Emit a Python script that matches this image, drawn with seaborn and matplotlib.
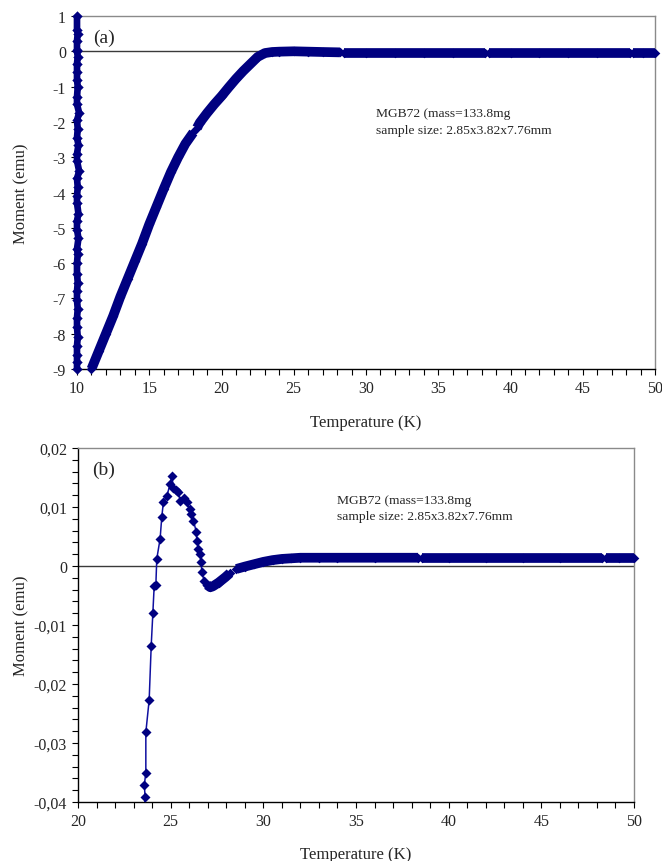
import numpy as np
import pandas as pd
import matplotlib
matplotlib.use("Agg")
import matplotlib.pyplot as plt
from matplotlib.ticker import MultipleLocator, FuncFormatter
import seaborn as sns

sns.set_theme(style="ticks")
plt.rcParams["font.family"] = ["Liberation Serif", "DejaVu Serif"]
plt.rcParams["axes.unicode_minus"] = False

NAVY = "#000080"

# ---------------- panel (a): full temperature sweep ----------------
# readings taken while held at 10 K
col_T = [10.0, 10.0, 10.05, 10.0, 10.0, 10.0, 10.05, 10.0, 10.0, 10.0,
         10.05, 10.0, 10.0, 10.15, 10.0, 10.05, 10.0, 10.1, 10.0, 10.0,
         10.15, 10.0, 10.05, 10.0, 10.0, 10.1, 10.0, 10.0, 10.1, 10.0,
         10.05, 10.0, 10.0, 10.05, 10.0, 10.0, 10.05, 10.0, 10.0, 10.05,
         10.0, 10.0, 10.0, 10.0]
col_M = [1.0, 0.6, 0.5, 0.3, 0.05, 0.0, -0.15, -0.35, -0.6, -0.8,
         -1.0, -1.3, -1.5, -1.75, -1.95, -2.2, -2.45, -2.65, -2.9, -3.1,
         -3.4, -3.6, -3.85, -4.1, -4.3, -4.6, -4.8, -5.05, -5.3, -5.6,
         -5.75, -6.0, -6.3, -6.55, -6.8, -7.05, -7.3, -7.55, -7.8, -8.1,
         -8.35, -8.6, -8.8, -9.0]

# warming curve, split into the recorded runs
a_T = [11.0, 11.5, 12.0, 12.5, 13.0, 13.5, 14.0, 14.5, 15.0, 15.5,
       16.0, 16.5, 17.0, 17.5, 18.05,
       18.3, 18.5, 19.0, 19.5, 20.0, 20.5, 21.0, 21.5, 22.0, 22.5,
       23.0, 23.5, 24.0, 25.0, 26.0, 27.0, 28.2,
       28.45, 30.0, 32.0, 34.0, 36.0, 38.25,
       38.5, 40.0, 42.0, 44.0, 46.0, 48.25,
       48.5, 49.2, 50.0]
a_M = [-9.0, -8.5, -8.0, -7.5, -6.95, -6.45, -5.95, -5.45, -4.9, -4.4,
       -3.9, -3.42, -3.0, -2.62, -2.3,
       -2.17, -2.02, -1.75, -1.5, -1.27, -1.02, -0.78, -0.56, -0.36, -0.16,
       -0.05, -0.02, -0.01, 0.0, -0.01, -0.02, -0.03,
       -0.04, -0.04, -0.04, -0.04, -0.04, -0.04,
       -0.04, -0.04, -0.04, -0.04, -0.04, -0.04,
       -0.04, -0.04, -0.04]
a_run = [1] * 15 + [2] * 17 + [3] * 6 + [4] * 6 + [5] * 3

# ---------------- panel (b): detail around the transition ----------------
# individual readings through the transition
b_T = [23.55, 23.62, 23.58, 23.66, 23.66, 23.84, 23.95, 24.04, 24.11, 24.2,
       24.25, 24.43, 24.52, 24.61, 24.79, 24.97, 25.06, 25.15, 25.3, 25.42,
       25.51, 25.7, 25.87, 26.02, 26.11, 26.23, 26.38, 26.41, 26.5, 26.59,
       26.63, 26.69, 26.81, 26.96]
b_M = [-0.043, -0.0392, -0.0371, -0.0350, -0.0282, -0.0227, -0.0135, -0.0079,
       -0.0034, -0.0033, 0.0012, 0.0046, 0.0083, 0.0109, 0.0118, 0.0139,
       0.0153, 0.0133, 0.0128, 0.0125, 0.0111, 0.0116, 0.0108, 0.0097,
       0.0088, 0.0077, 0.0058, 0.0043, 0.0029, 0.0020, 0.0007, -0.0011,
       -0.0025, -0.0032]

# densely sampled recovery and normal state
bt_T = [26.96, 27.14, 27.3, 27.59, 27.95, 28.2,
        28.55, 29.0, 29.5, 30.0, 30.5, 31.0, 31.5, 32.0, 33.0, 34.0, 36.0, 38.35,
        38.55, 40.0, 42.0, 44.0, 46.0, 48.3,
        48.5, 49.2, 50.0]
bt_M = [-0.0032, -0.0036, -0.0034, -0.0028, -0.0019, -0.0012,
        -0.0005, -0.0001, 0.0003, 0.0007, 0.0010, 0.0012, 0.0013, 0.0014,
        0.0014, 0.0014, 0.0014, 0.0014,
        0.0014, 0.0014, 0.0014, 0.0014, 0.0014, 0.0014,
        0.0014, 0.0014, 0.0014]
bt_run = [1] * 6 + [2] * 12 + [3] * 6 + [4] * 3

label_text = "MGB72 (mass=133.8mg\nsample size: 2.85x3.82x7.76mm"

BAND_LW = 7.0      # points, width of densely packed marker runs
DIAMOND_S = 24     # scatter size of a single diamond marker


def style_axes(ax):
    for side in ("left", "bottom"):
        ax.spines[side].set_color("black")
        ax.spines[side].set_linewidth(1.0)
    for side in ("top", "right"):
        ax.spines[side].set_visible(True)
        ax.spines[side].set_color("#8a8a8a")
        ax.spines[side].set_linewidth(1.0)
    ax.tick_params(which="both", direction="out", length=4, width=0.8,
                   color="black", labelsize=11.5, pad=4,
                   top=False, right=False)
    ax.set_facecolor("white")
    ax.axhline(0, color="#3a3a3a", lw=1.0, zorder=1)


fig = plt.figure(figsize=(6.62, 8.62), dpi=100)
ax_a = fig.add_axes([77 / 662, 1 - 370 / 862, 578 / 662, 353 / 862])
ax_b = fig.add_axes([78 / 662, 1 - 803 / 862, 556 / 662, 354 / 862])

# ---- (a)
df_col = pd.DataFrame({"T": col_T, "M": col_M})
df_a = pd.DataFrame({"T": a_T, "M": a_M, "run": a_run})

sns.lineplot(data=df_col, x="T", y="M", sort=False, estimator=None,
             color=NAVY, lw=4.8, solid_capstyle="butt", ax=ax_a, zorder=3,
             clip_on=False)
sns.scatterplot(data=df_col, x="T", y="M", marker="D", s=28,
                color=NAVY, edgecolor=NAVY, linewidth=0, ax=ax_a,
                zorder=4, clip_on=False)
sns.lineplot(data=df_a, x="T", y="M", units="run", estimator=None, sort=False,
             color=NAVY, lw=BAND_LW, solid_capstyle="butt", ax=ax_a, zorder=3)
sns.scatterplot(data=df_a, x="T", y="M", marker="D", s=DIAMOND_S,
                color=NAVY, edgecolor=NAVY, linewidth=0, ax=ax_a,
                zorder=4, clip_on=False)

ax_a.set_xlim(10, 50)
ax_a.set_ylim(-9, 1)
ax_a.xaxis.set_major_locator(MultipleLocator(5))
ax_a.xaxis.set_minor_locator(MultipleLocator(1))
ax_a.yaxis.set_major_locator(MultipleLocator(1))
ax_a.yaxis.set_major_formatter(FuncFormatter(lambda v, p: f"{v:.0f}"))
style_axes(ax_a)
ax_a.set_xlabel("Temperature (K)", fontsize=12, labelpad=13)
ax_a.set_ylabel("Moment (emu)", fontsize=12)
ax_a.yaxis.set_label_coords(-0.083, 0.5)
ax_a.text(0.028, 0.965, "(a)", transform=ax_a.transAxes, fontsize=14,
          ha="left", va="top")
ax_a.text(0.518, 0.742, label_text, transform=ax_a.transAxes, fontsize=9.7,
          ha="left", va="top", linespacing=1.5)

# ---- (b)
df_b = pd.DataFrame({"T": b_T, "M": b_M})
df_bt = pd.DataFrame({"T": bt_T, "M": bt_M, "run": bt_run})

sns.lineplot(data=df_b, x="T", y="M", sort=False, estimator=None,
             color="#1010a0", lw=1.1, ax=ax_b, zorder=3)
sns.scatterplot(data=df_b, x="T", y="M", marker="D", s=26,
                color=NAVY, edgecolor=NAVY, linewidth=0, ax=ax_b, zorder=4)
sns.lineplot(data=df_bt, x="T", y="M", units="run", estimator=None, sort=False,
             color=NAVY, lw=BAND_LW, solid_capstyle="butt", ax=ax_b, zorder=3)
sns.scatterplot(data=df_bt, x="T", y="M", marker="D", s=DIAMOND_S,
                color=NAVY, edgecolor=NAVY, linewidth=0, ax=ax_b,
                zorder=4, clip_on=False)

ax_b.set_xlim(20, 50)
ax_b.set_ylim(-0.04, 0.02)
ax_b.xaxis.set_major_locator(MultipleLocator(5))
ax_b.xaxis.set_minor_locator(MultipleLocator(1))
ax_b.yaxis.set_major_locator(MultipleLocator(0.01))
ax_b.yaxis.set_minor_locator(MultipleLocator(0.002))


def comma_fmt(v, pos):
    if abs(v) < 1e-9:
        return "0"
    return f"{v:.2f}".replace(".", ",")


ax_b.yaxis.set_major_formatter(FuncFormatter(comma_fmt))
style_axes(ax_b)
ax_b.set_xlabel("Temperature (K)", fontsize=12, labelpad=12)
ax_b.set_ylabel("Moment (emu)", fontsize=12)
ax_b.yaxis.set_label_coords(-0.088, 0.5)
ax_b.text(0.025, 0.965, "(b)", transform=ax_b.transAxes, fontsize=14,
          ha="left", va="top")
ax_b.text(0.465, 0.871, label_text, transform=ax_b.transAxes, fontsize=9.7,
          ha="left", va="top", linespacing=1.5)

fig.savefig("out.png", dpi=100, facecolor="white")
